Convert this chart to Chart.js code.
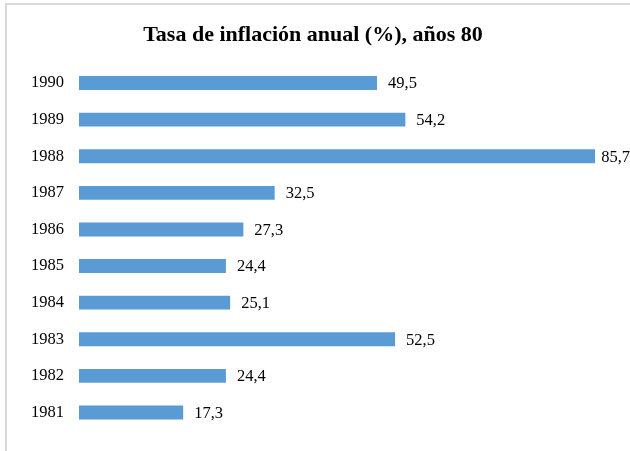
<!DOCTYPE html>
<html>
<head>
<meta charset="utf-8">
<script src="https://cdn.jsdelivr.net/npm/chart.js@4"></script>
<style>
html,body{margin:0;padding:0;background:#fff;}
canvas{display:block;}
</style>
</head>
<body>
<canvas id="c" width="630" height="451"></canvas>
<script>
const years = ["1990","1989","1988","1987","1986","1985","1984","1983","1982","1981"];
const inflation = [49.5, 54.2, 85.7, 32.5, 27.3, 24.4, 25.1, 52.5, 24.4, 17.3];
const titleText = "Tasa de inflación anual (%), años 80";

const SERIF = "'Liberation Serif','Times New Roman',serif";

const frame = {
  id: 'frame',
  beforeDraw(chart) {
    const ctx = chart.ctx;
    ctx.save();
    ctx.fillStyle = '#fff';
    ctx.fillRect(0, 0, chart.width, chart.height);
    ctx.strokeStyle = '#d9d9d9';
    ctx.lineWidth = 2;
    ctx.beginPath();
    ctx.moveTo(6, chart.height);
    ctx.lineTo(6, 4);
    ctx.lineTo(chart.width, 4);
    ctx.stroke();
    ctx.fillStyle = '#000';
    ctx.font = "bold 22px " + SERIF;
    ctx.textAlign = 'center';
    ctx.textBaseline = 'middle';
    ctx.fillText(titleText, 313, 35);
    ctx.restore();
  }
};

const valueLabels = {
  id: 'valueLabels',
  afterDatasetsDraw(chart) {
    const ctx = chart.ctx;
    const meta = chart.getDatasetMeta(0);
    ctx.save();
    ctx.font = "16.5px " + SERIF;
    ctx.fillStyle = '#000';
    ctx.textAlign = 'left';
    ctx.textBaseline = 'middle';
    meta.data.forEach((bar, i) => {
      const txt = inflation[i].toFixed(1).replace('.', ',');
      const w = ctx.measureText(txt).width;
      const x = Math.min(bar.x + 11, chart.width - w);
      ctx.fillText(txt, x, bar.y + 1);
    });
    ctx.restore();
  }
};

new Chart(document.getElementById('c'), {
  type: 'bar',
  data: {
    labels: years,
    datasets: [{
      data: inflation,
      backgroundColor: '#5b9bd5',
      borderWidth: 0,
      barPercentage: 0.38,
      categoryPercentage: 1.0
    }]
  },
  options: {
    indexAxis: 'y',
    responsive: false,
    animation: false,
    layout: { padding: { left: 0, right: 35, top: 64.7, bottom: 20.2 } },
    plugins: {
      legend: { display: false },
      tooltip: { enabled: false },
      title: { display: false }
    },
    scales: {
      x: {
        display: false,
        min: 0,
        max: 85.7
      },
      y: {
        grid: { display: false, drawTicks: false },
        border: { display: false },
        ticks: {
          color: '#000',
          font: { family: SERIF, size: 16.5 },
          padding: 15
        },
        afterFit(scale) { scale.width = 79; scale.paddingTop = 0; scale.paddingBottom = 0; }
      }
    }
  },
  plugins: [frame, valueLabels]
});
</script>
</body>
</html>
